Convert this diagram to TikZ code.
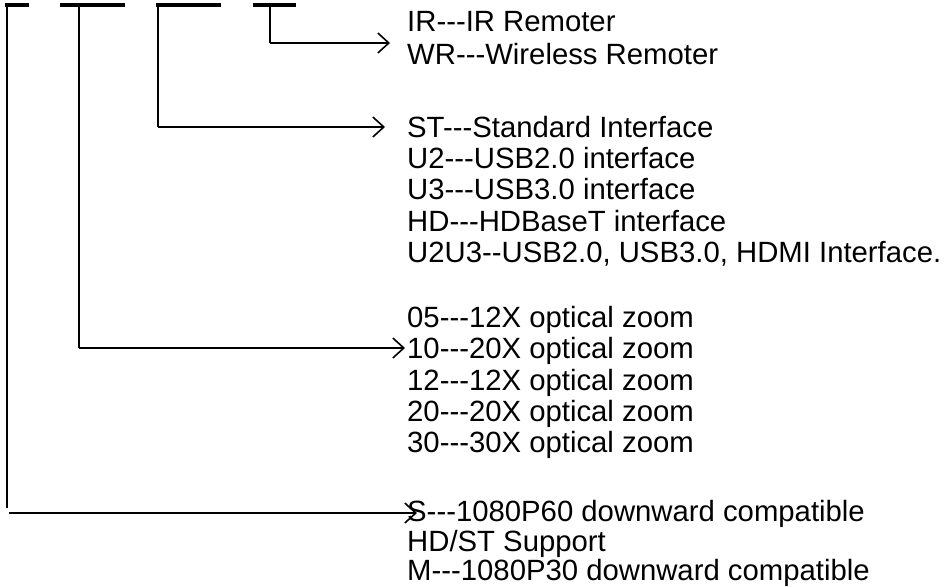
\documentclass[tikz,border=0pt]{standalone}
\usepackage{fontspec}
\newfontfamily\lbfont{Liberation Sans}
\usetikzlibrary{arrows.meta}
\begin{document}
\begin{tikzpicture}[x=1pt,y=-1pt,
  conn/.style={line width=1.6pt,-{Straight Barb[length=11pt,width=20pt,line width=1.6pt]}},
  leg/.style={line width=1.6pt},
  bar/.style={line width=3.5pt},
  lbl/.style={anchor=base west,inner sep=0pt,font=\lbfont\fontsize{29.3}{32}\selectfont}]
\useasboundingbox (0,0) rectangle (944,586);
% underline bars at top
\coordinate (b1a) at (5,5);   \coordinate (b1b) at (29,5);
\coordinate (b2a) at (60,5);  \coordinate (b2b) at (125,5);
\coordinate (b3a) at (156,5); \coordinate (b3b) at (221,5);
\coordinate (b4a) at (253,5); \coordinate (b4b) at (296,5);
\draw[bar] (b1a) -- (b1b);
\draw[bar] (b2a) -- (b2b);
\draw[bar] (b3a) -- (b3b);
\draw[bar] (b4a) -- (b4b);
% text blocks
\node[lbl] (ir) at (407,32) {IR---IR Remoter};
\node[lbl] (wr) at (407,64) {WR---Wireless Remoter};
\node[lbl] (st) at (407,137) {ST---Standard Interface};
\node[lbl] (u2) at (407,168) {U2---USB2.0 interface};
\node[lbl] (u3) at (407,199) {U3---USB3.0 interface};
\node[lbl] (hd) at (407,231) {HD---HDBaseT interface};
\node[lbl] (u2u3) at (407,262) {U2U3--USB2.0, USB3.0, HDMI Interface.};
\node[lbl] (z05) at (407,327) {05---12X optical zoom};
\node[lbl] (z10) at (407,358) {10---20X optical zoom};
\node[lbl] (z12) at (407,390) {12---12X optical zoom};
\node[lbl] (z20) at (407,421) {20---20X optical zoom};
\node[lbl] (z30) at (407,452) {30---30X optical zoom};
\node[lbl] (s) at (407,521) {S---1080P60 downward compatible};
\node[lbl] (hdst) at (407,551) {HD/ST Support};
\node[lbl] (m) at (407,580) {M---1080P30 downward compatible};
% connectors
\coordinate (t4) at (270,7);  \coordinate (c4) at (270,43);  \coordinate (e4) at (390,43);
\coordinate (t3) at (158,7);  \coordinate (c3) at (158,127); \coordinate (e3) at (385,127);
\coordinate (t2) at (79,7);   \coordinate (c2) at (79,348);  \coordinate (e2) at (405,348);
\coordinate (t1) at (7,7);    \coordinate (c1) at (7,508);
\coordinate (h1) at (9,513);  \coordinate (e1) at (417,513);
\draw[leg] (t4) -- (c4); \draw[conn] (c4) -- (e4);
\draw[leg] (t3) -- (c3); \draw[conn] (c3) -- (e3);
\draw[leg] (t2) -- (c2); \draw[conn] (c2) -- (e2);
\draw[leg] (t1) -- (c1); \draw[conn] (h1) -- (e1);
\end{tikzpicture}
\end{document}
